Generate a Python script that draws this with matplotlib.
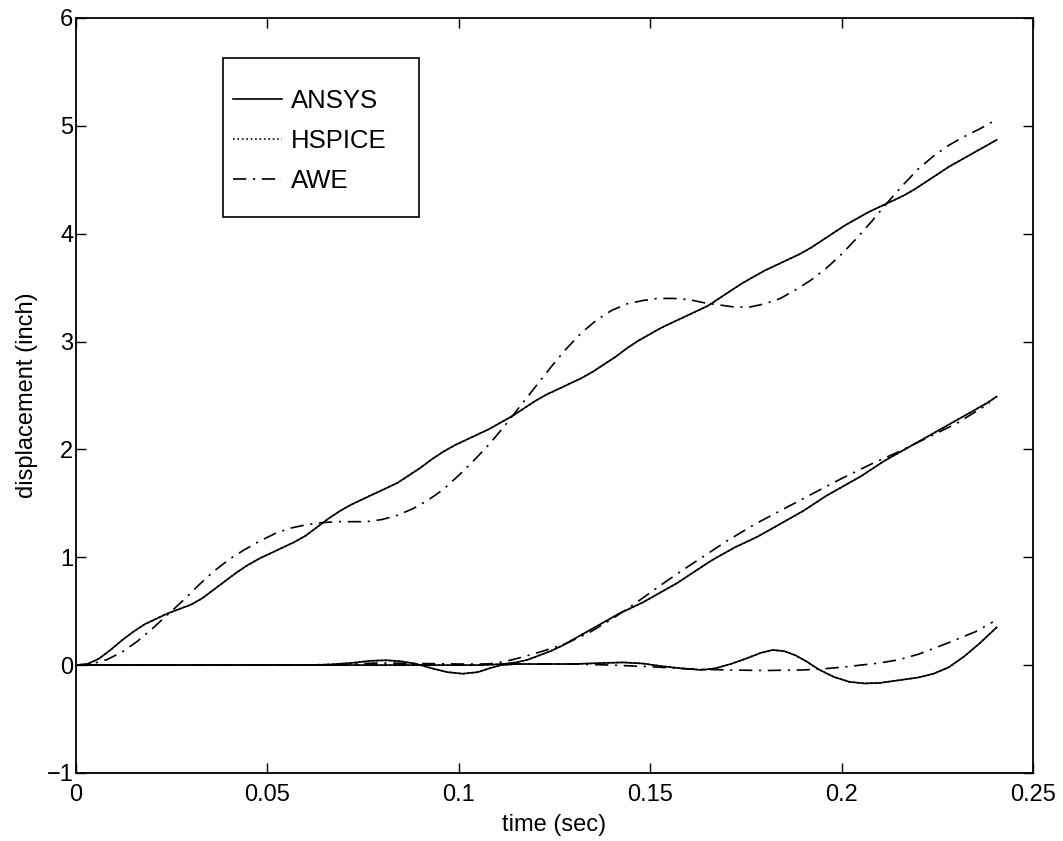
import matplotlib
matplotlib.use('Agg')
import matplotlib.pyplot as plt
from matplotlib.patches import Rectangle

plt.rcParams['font.family'] = ['Liberation Sans', 'DejaVu Sans']

# upper group of curves
t_top = [0, 0.003, 0.006, 0.009, 0.012, 0.015, 0.018, 0.021, 0.024, 0.027,
         0.030, 0.033, 0.036, 0.039, 0.042, 0.045, 0.048, 0.051, 0.054, 0.057,
         0.060, 0.063, 0.066, 0.069, 0.072, 0.075, 0.078, 0.081, 0.084, 0.087,
         0.090, 0.093, 0.096, 0.099, 0.102, 0.105, 0.108, 0.111, 0.114, 0.117,
         0.120, 0.123, 0.126, 0.129, 0.132, 0.135, 0.138, 0.141, 0.144, 0.147,
         0.150, 0.153, 0.156, 0.159, 0.162, 0.165, 0.168, 0.171, 0.174, 0.177,
         0.180, 0.183, 0.186, 0.189, 0.192, 0.195, 0.198, 0.201, 0.204, 0.207,
         0.210, 0.213, 0.216, 0.219, 0.222, 0.225, 0.228, 0.231, 0.234, 0.237,
         0.2405]
v_ansys_top = [0, 0.01, 0.06, 0.14, 0.23, 0.31, 0.38, 0.43, 0.48, 0.52,
               0.56, 0.62, 0.70, 0.78, 0.86, 0.93, 0.99, 1.04, 1.09, 1.14,
               1.20, 1.28, 1.36, 1.43, 1.49, 1.54, 1.59, 1.64, 1.69, 1.76,
               1.83, 1.91, 1.98, 2.04, 2.09, 2.14, 2.19, 2.25, 2.31, 2.38,
               2.45, 2.51, 2.56, 2.61, 2.66, 2.72, 2.79, 2.86, 2.94, 3.01,
               3.07, 3.13, 3.18, 3.23, 3.28, 3.33, 3.40, 3.47, 3.54, 3.60,
               3.66, 3.71, 3.76, 3.81, 3.87, 3.94, 4.01, 4.08, 4.14, 4.20,
               4.25, 4.30, 4.35, 4.41, 4.48, 4.55, 4.62, 4.68, 4.74, 4.80,
               4.87]
# HSPICE lies on top of ANSYS
v_hspice_top = [0, 0.01, 0.06, 0.14, 0.23, 0.31, 0.38, 0.43, 0.48, 0.52,
                0.56, 0.62, 0.70, 0.78, 0.86, 0.93, 0.99, 1.04, 1.09, 1.14,
                1.20, 1.28, 1.36, 1.43, 1.49, 1.54, 1.59, 1.64, 1.69, 1.76,
                1.83, 1.91, 1.98, 2.04, 2.09, 2.14, 2.19, 2.25, 2.31, 2.38,
                2.45, 2.51, 2.56, 2.61, 2.66, 2.72, 2.79, 2.86, 2.94, 3.01,
                3.07, 3.13, 3.18, 3.23, 3.28, 3.33, 3.40, 3.47, 3.54, 3.60,
                3.66, 3.71, 3.76, 3.81, 3.87, 3.94, 4.01, 4.08, 4.14, 4.20,
                4.25, 4.30, 4.35, 4.41, 4.48, 4.55, 4.62, 4.68, 4.74, 4.80,
                4.87]

t_awe_top = [0, 0.004, 0.008, 0.012, 0.016, 0.020, 0.024, 0.028, 0.032, 0.036,
             0.040, 0.044, 0.048, 0.052, 0.056, 0.060, 0.064, 0.068, 0.072, 0.076,
             0.080, 0.084, 0.088, 0.092, 0.096, 0.100, 0.104, 0.108, 0.112, 0.116,
             0.120, 0.124, 0.128, 0.132, 0.136, 0.140, 0.144, 0.148, 0.152, 0.156,
             0.160, 0.164, 0.168, 0.172, 0.176, 0.180, 0.184, 0.188, 0.192, 0.196,
             0.200, 0.204, 0.208, 0.212, 0.216, 0.220, 0.224, 0.228, 0.232, 0.236,
             0.2395]
v_awe_top = [0, 0.01, 0.05, 0.12, 0.22, 0.34, 0.47, 0.60, 0.74, 0.87,
             0.98, 1.07, 1.15, 1.22, 1.27, 1.30, 1.32, 1.33, 1.33, 1.33,
             1.35, 1.39, 1.45, 1.53, 1.63, 1.76, 1.90, 2.05, 2.22, 2.40,
             2.58, 2.76, 2.93, 3.08, 3.20, 3.29, 3.35, 3.38, 3.40, 3.40,
             3.39, 3.36, 3.34, 3.32, 3.32, 3.35, 3.40, 3.48, 3.57, 3.68,
             3.81, 3.96, 4.12, 4.29, 4.45, 4.60, 4.72, 4.82, 4.90, 4.97,
             5.04]

# middle group
t_mid = [0, 0.105, 0.109, 0.112, 0.115, 0.118, 0.121, 0.124, 0.127, 0.130,
         0.133, 0.136, 0.139, 0.142, 0.145, 0.148, 0.151, 0.154, 0.157, 0.160,
         0.163, 0.166, 0.169, 0.172, 0.175, 0.178, 0.181, 0.184, 0.187, 0.190,
         0.193, 0.196, 0.199, 0.202, 0.205, 0.208, 0.211, 0.214, 0.217, 0.220,
         0.223, 0.226, 0.229, 0.232, 0.235, 0.238, 0.2405]
v_ansys_mid = [0, 0.0, 0.005, 0.012, 0.025, 0.05, 0.09, 0.13, 0.18, 0.24,
               0.30, 0.36, 0.42, 0.48, 0.53, 0.58, 0.64, 0.70, 0.76, 0.83,
               0.90, 0.97, 1.03, 1.09, 1.14, 1.19, 1.25, 1.31, 1.37, 1.43,
               1.50, 1.57, 1.63, 1.69, 1.75, 1.82, 1.89, 1.95, 2.01, 2.07,
               2.13, 2.19, 2.25, 2.31, 2.37, 2.43, 2.49]
v_hspice_mid = [0, 0.0, 0.005, 0.012, 0.025, 0.05, 0.09, 0.13, 0.18, 0.24,
                0.30, 0.36, 0.42, 0.48, 0.53, 0.58, 0.64, 0.70, 0.76, 0.83,
                0.90, 0.97, 1.03, 1.09, 1.14, 1.19, 1.25, 1.31, 1.37, 1.43,
                1.50, 1.57, 1.63, 1.69, 1.75, 1.82, 1.89, 1.95, 2.01, 2.07,
                2.13, 2.19, 2.25, 2.31, 2.37, 2.43, 2.49]

t_awe_mid = [0, 0.105, 0.110, 0.114, 0.1172, 0.122, 0.128, 0.134, 0.1397, 0.146,
             0.1523, 0.158, 0.164, 0.170, 0.1775, 0.185, 0.1919, 0.200, 0.2081, 0.215,
             0.2225, 0.230, 0.2387]
v_awe_mid = [0, 0.0, 0.02, 0.05, 0.08, 0.13, 0.20, 0.30, 0.42, 0.57,
             0.73, 0.87, 1.01, 1.15, 1.31, 1.45, 1.58, 1.73, 1.87, 1.98,
             2.11, 2.24, 2.43]

# bottom group
t_bot = [0, 0.060, 0.066, 0.072, 0.077, 0.081, 0.085, 0.089, 0.093, 0.097,
         0.101, 0.105, 0.108, 0.111, 0.115, 0.120, 0.130, 0.138, 0.143, 0.148,
         0.153, 0.158, 0.1635, 0.167, 0.171, 0.175, 0.179, 0.182, 0.185, 0.188,
         0.191, 0.194, 0.198, 0.202, 0.206, 0.210, 0.215, 0.220, 0.224, 0.228,
         0.232, 0.236, 0.2405]
v_ansys_bot = [0, 0.0, 0.005, 0.02, 0.04, 0.045, 0.035, 0.01, -0.03, -0.065,
               -0.08, -0.065, -0.03, 0.0, 0.01, 0.01, 0.01, 0.02, 0.025, 0.015,
               -0.01, -0.03, -0.045, -0.03, 0.01, 0.06, 0.115, 0.14, 0.13, 0.09,
               0.03, -0.04, -0.11, -0.155, -0.17, -0.165, -0.14, -0.115, -0.08, -0.02,
               0.08, 0.20, 0.35]
v_hspice_bot = [0, 0.0, 0.005, 0.02, 0.04, 0.045, 0.035, 0.01, -0.03, -0.065,
                -0.08, -0.065, -0.03, 0.0, 0.01, 0.01, 0.01, 0.02, 0.025, 0.015,
                -0.01, -0.03, -0.045, -0.03, 0.01, 0.06, 0.115, 0.14, 0.13, 0.09,
                0.03, -0.04, -0.11, -0.155, -0.17, -0.165, -0.14, -0.115, -0.08, -0.02,
                0.08, 0.20, 0.35]

t_awe_bot = [0, 0.060, 0.070, 0.080, 0.090, 0.100, 0.110, 0.120, 0.130, 0.140,
             0.150, 0.160, 0.170, 0.180, 0.190, 0.195, 0.200, 0.205, 0.210, 0.215,
             0.220, 0.2274, 0.235, 0.2395]
v_awe_bot = [0, 0.0, 0.01, 0.02, 0.015, 0.01, 0.01, 0.01, 0.01, 0.0,
             -0.015, -0.035, -0.045, -0.05, -0.045, -0.035, -0.02, 0.0, 0.02, 0.05,
             0.10, 0.20, 0.31, 0.40]

fig = plt.figure(figsize=(10.63, 8.41), dpi=100)
ax = fig.add_axes([0.0715, 0.0809, 0.9003, 0.8977])

lw = 1.2
dashdot = (0, (8, 4, 1.3, 4))
# first group carries the legend entries
ax.plot(t_top, v_hspice_top, 'k:', lw=lw, label='HSPICE')
ax.plot(t_top, v_ansys_top, 'k-', lw=lw, label='ANSYS')
ax.plot(t_awe_top, v_awe_top, color='k', ls=dashdot, lw=lw, label='AWE')
ax.plot(t_mid, v_hspice_mid, 'k:', lw=lw)
ax.plot(t_mid, v_ansys_mid, 'k-', lw=lw)
ax.plot(t_awe_mid, v_awe_mid, color='k', ls=dashdot, lw=lw)
ax.plot(t_bot, v_hspice_bot, 'k:', lw=lw)
ax.plot(t_bot, v_ansys_bot, 'k-', lw=lw)
ax.plot(t_awe_bot, v_awe_bot, color='k', ls=dashdot, lw=lw)

ax.set_xlim(0, 0.25)
ax.set_ylim(-1, 6)
ax.set_xticks([0, 0.05, 0.1, 0.15, 0.2, 0.25])
ax.set_xticklabels(['0', '0.05', '0.1', '0.15', '0.2', '0.25'])
ax.set_yticks(range(-1, 7))
ax.set_yticklabels(['\u22121', '0', '1', '2', '3', '4', '5', '6'])
ax.tick_params(direction='in', length=7, width=1, top=True, right=True, labelsize=17)
ax.tick_params(axis='x', pad=8)
ax.tick_params(axis='y', pad=2)
for s in ax.spines.values():
    s.set_linewidth(1.3)

ax.set_xlabel('time (sec)', fontsize=17, labelpad=6)
ax.set_ylabel('displacement (inch)', fontsize=17, labelpad=6)

# legend box drawn by hand so the padding matches
ax.add_patch(Rectangle((0.1536, 0.7364), 0.2048, 0.2106, transform=ax.transAxes,
                       facecolor='white', edgecolor='black', lw=1.2, zorder=4))
handles, labels = ax.get_legend_handles_labels()
order = [labels.index(n) for n in ['ANSYS', 'HSPICE', 'AWE']]
leg = ax.legend([handles[i] for i in order], [labels[i] for i in order],
                loc='upper left', bbox_to_anchor=(0.164, 0.906), fontsize=18.5,
                frameon=False, handlelength=1.9, borderpad=0, borderaxespad=0,
                labelspacing=0.62, handletextpad=0.35)
leg.set_zorder(5)

fig.savefig('out.png', dpi=100)
